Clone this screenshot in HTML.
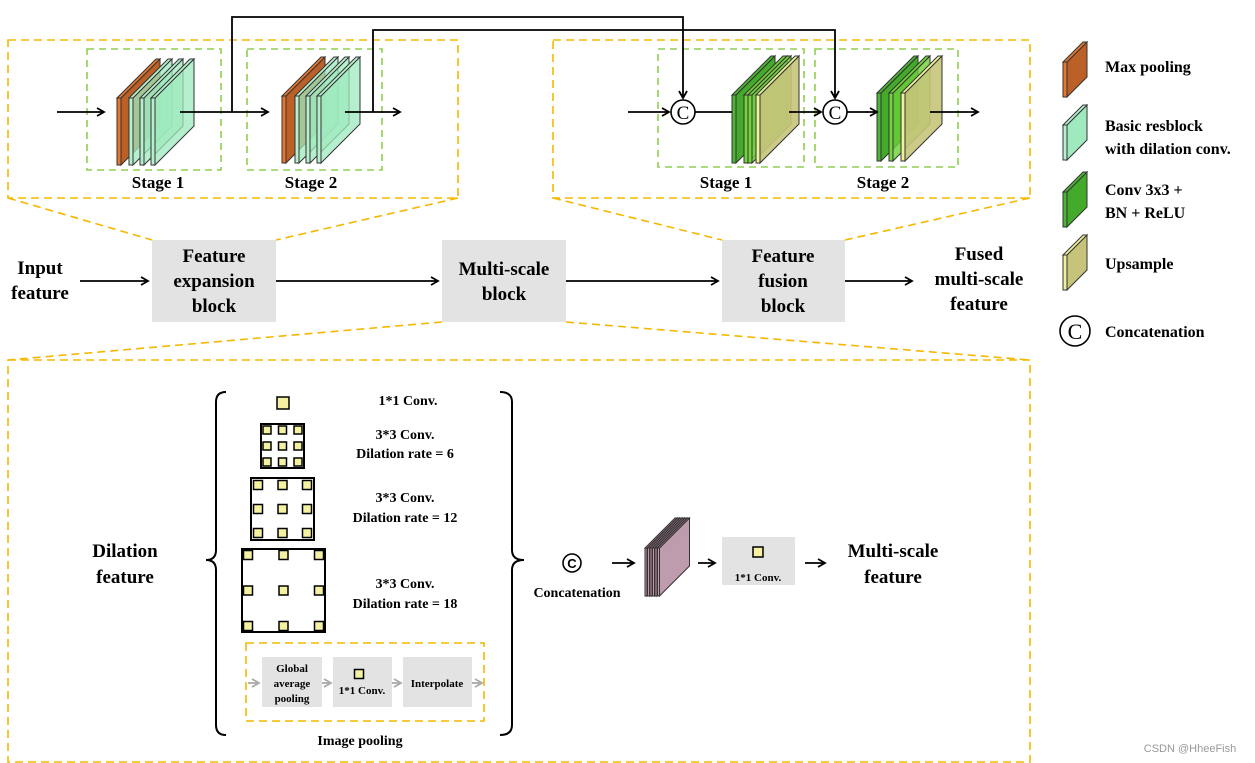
<!DOCTYPE html>
<html><head><meta charset="utf-8"><style>
html,body{margin:0;padding:0;background:#fff;}
svg{display:block;font-family:"Liberation Serif",serif;font-weight:bold;}
</style></head><body>
<svg id="s" width="1255" height="763" viewBox="0 0 1255 763" xmlns="http://www.w3.org/2000/svg">
<defs>
<marker id="a" markerWidth="10" markerHeight="10" refX="8" refY="5" orient="auto" markerUnits="userSpaceOnUse"><path d="M1,1 L8,5 L1,9" fill="none" stroke="#000" stroke-width="1.8"/></marker>
<marker id="g" markerWidth="10" markerHeight="10" refX="8" refY="5" orient="auto" markerUnits="userSpaceOnUse"><path d="M1,1 L8,5 L1,9" fill="none" stroke="#aaa" stroke-width="1.8"/></marker>
</defs>
<g fill="none" stroke="#f5b800" stroke-width="1.6" stroke-dasharray="8,5">
<rect x="8" y="40" width="450" height="158"/>
<rect x="553" y="40" width="477" height="158"/>
<rect x="8" y="360" width="1022" height="402"/>
<rect x="246" y="643" width="238" height="78"/>
<path d="M8,198 L152,240 M458,198 L276,240 M553,198 L722,240 M1030,198 L845,240 M442,322 L8,360 M566,322 L1030,360"/>
</g>
<g fill="none" stroke="#8fcf50" stroke-width="1.6" stroke-dasharray="7,5">
<rect x="87" y="49" width="134" height="121"/>
<rect x="247" y="49" width="135" height="121"/>
<rect x="658" y="49" width="146" height="118"/>
<rect x="815" y="49" width="143" height="118"/>
</g>
<g id="plates"></g>
<g fill="none" stroke="#000" stroke-width="1.8">
<path d="M57,112 L104,112" marker-end="url(#a)"/>
<path d="M180,112 L268,112" marker-end="url(#a)"/>
<path d="M345,112 L400,112" marker-end="url(#a)"/>
<path d="M232,112 V17 H683 V98" marker-end="url(#a)"/>
<path d="M373,112 V30 H835 V98" marker-end="url(#a)"/>
<path d="M628,112 L669,112" marker-end="url(#a)"/>
<path d="M695,112 L732,112"/>
<path d="M789,112 L821,112" marker-end="url(#a)"/>
<path d="M847,112 L877,112" marker-end="url(#a)"/>
<path d="M930,112 L978,112" marker-end="url(#a)"/>
<path d="M80,281 L148,281" marker-end="url(#a)"/>
<path d="M276,281 L438,281" marker-end="url(#a)"/>
<path d="M566,281 L718,281" marker-end="url(#a)"/>
<path d="M845,281 L912,281" marker-end="url(#a)"/>
<path d="M612,563 L634,563" marker-end="url(#a)"/>
<path d="M698,563 L715,563" marker-end="url(#a)"/>
<path d="M805,563 L825,563" marker-end="url(#a)"/>
</g>
<g fill="#fff" stroke="#000" stroke-width="1.6">
<circle cx="683" cy="112" r="12"/><circle cx="835" cy="112" r="12"/>
<circle cx="1075" cy="331" r="15"/><circle cx="572" cy="563" r="9"/>
</g>
<g font-weight="normal" font-size="19" text-anchor="middle">
<text x="683" y="119">C</text><text x="835" y="119">C</text><text x="1075" y="339" font-size="22">C</text>
</g>
<text x="572" y="568" font-size="13" text-anchor="middle" font-family="Liberation Sans,sans-serif">C</text>
<g font-size="17" text-anchor="middle">
<text x="158" y="188">Stage 1</text><text x="311" y="188">Stage 2</text>
<text x="726" y="188">Stage 1</text><text x="883" y="188">Stage 2</text>
</g>
<g fill="#e3e3e3">
<rect x="152" y="240" width="124" height="82"/><rect x="442" y="240" width="124" height="82"/><rect x="722" y="240" width="123" height="82"/>
<rect x="722" y="537" width="73" height="48"/>
<rect x="262" y="657" width="60" height="50"/><rect x="333" y="657" width="59" height="50"/><rect x="403" y="657" width="69" height="50"/>
</g>
<g font-size="19" text-anchor="middle">
<text x="40" y="274">Input</text><text x="40" y="299">feature</text>
<text x="214" y="262">Feature</text><text x="214" y="287">expansion</text><text x="214" y="312">block</text>
<text x="504" y="275">Multi-scale</text><text x="504" y="300">block</text>
<text x="783" y="262">Feature</text><text x="783" y="287">fusion</text><text x="783" y="312">block</text>
<text x="979" y="260">Fused</text><text x="979" y="285">multi-scale</text><text x="979" y="310">feature</text>
<text x="125" y="557">Dilation</text><text x="125" y="583">feature</text>
<text x="893" y="557">Multi-scale</text><text x="893" y="583">feature</text>
</g>
<g font-size="16">
<text x="1105" y="72">Max pooling</text>
<text x="1105" y="131">Basic resblock</text><text x="1105" y="154">with dilation conv.</text>
<text x="1105" y="195">Conv 3x3 +</text><text x="1105" y="218">BN + ReLU</text>
<text x="1105" y="269">Upsample</text>
<text x="1105" y="337">Concatenation</text>
</g>
<g font-size="14" text-anchor="middle">
<text x="408" y="405">1*1 Conv.</text>
<text x="405" y="439">3*3 Conv.</text><text x="405" y="458">Dilation rate = 6</text>
<text x="405" y="502">3*3 Conv.</text><text x="405" y="522">Dilation rate = 12</text>
<text x="405" y="588">3*3 Conv.</text><text x="405" y="608">Dilation rate = 18</text>
<text x="577" y="597">Concatenation</text>
<text x="360" y="745">Image pooling</text>
</g>
<g font-size="11" text-anchor="middle">
<text x="292" y="672">Global</text><text x="292" y="687">average</text><text x="292" y="702">pooling</text>
<text x="362" y="694">1*1 Conv.</text><text x="437" y="687">Interpolate</text>
<text x="758" y="581">1*1 Conv.</text>
</g>
<g fill="none" stroke="#000" stroke-width="2">
<rect x="261" y="424" width="43" height="44"/><rect x="251" y="478" width="63" height="62"/><rect x="242" y="549" width="83" height="83"/>
<path d="M226,392 Q216,392 216,402 V550 Q216,560 206,560 Q216,560 216,570 V725 Q216,735 226,735"/>
<path d="M500,392 Q512,392 512,402 V550 Q512,560 524,560 Q512,560 512,570 V725 Q512,735 500,735"/>
</g>
<g fill="none" stroke="#aaa" stroke-width="1.8">
<path d="M248,683 L259,683" marker-end="url(#g)"/><path d="M322,683 L331,683" marker-end="url(#g)"/>
<path d="M392,683 L401,683" marker-end="url(#g)"/><path d="M472,683 L482,683" marker-end="url(#g)"/>
</g>
<g id="sq" fill="#f4f1a0" stroke="#000" stroke-width="1.5"></g>
<text x="1190" y="752" font-size="11" fill="#999" font-weight="normal" text-anchor="middle" font-family="Liberation Sans,sans-serif">CSDN @HheeFish</text>
<script>
var NS="http://www.w3.org/2000/svg";
function el(p,t,a){var e=document.createElementNS(NS,t);for(var k in a)e.setAttribute(k,a[k]);p.appendChild(e);return e;}
var P=document.getElementById("plates");
function plate(x,y,h,d,fc,face,op,w){w=w||4;
el(P,"polygon",{points:(x+w)+","+y+" "+(x+w+d)+","+(y-d)+" "+(x+w+d)+","+(y+h-d)+" "+(x+w)+","+(y+h),fill:face,"fill-opacity":op,stroke:"#333","stroke-width":1});
el(P,"polygon",{points:x+","+y+" "+(x+d)+","+(y-d)+" "+(x+w+d)+","+(y-d)+" "+(x+w)+","+y,fill:fc,stroke:"#333","stroke-width":1});
el(P,"rect",{x:x,y:y,width:w,height:h,fill:fc,stroke:"#333","stroke-width":1});}
var O1="#e8772e",O2="#bb6128",G="#b7f0cf",GF="#9ee9bd",D="#4db535",DF="#44aa2c",L="#74d43c",Y="#eef29a",YF="#c6c47a";
plate(117,98,67,39,O1,O2,1);plate(129,98,67,39,G,GF,0.75);plate(140,98,67,39,G,GF,0.75);plate(151,98,67,39,G,GF,0.75);
plate(282,96,67,39,O1,O2,1);plate(295,96,67,39,G,GF,0.75);plate(306,96,67,39,G,GF,0.75);plate(317,96,67,39,G,GF,0.75);
plate(732,95,68,39,D,DF,1);plate(744,95,68,39,L,"#8ad85c",0.8);plate(748,95,68,39,L,"#6ccf3a",0.8);plate(756,95,68,39,Y,YF,0.9);
plate(877,93,68,37,D,DF,1);plate(889,93,68,37,L,"#6ccf3a",0.8);plate(901,93,68,37,Y,YF,0.9);
plate(1063,62,35,20,O1,O2,1);plate(1063,125,35,20,G,GF,1);plate(1063,192,35,20,D,DF,1);plate(1063,255,35,20,Y,YF,1);
for(var i=0;i<6;i++)plate(645+i*2.5,548,48,30,"#c797ad","#be9bad",1,2);
var S=document.getElementById("sq");
function sq(cx,cy,s){el(S,"rect",{x:cx-s/2,y:cy-s/2,width:s,height:s});}
sq(283,403,12);sq(758,552,10);sq(359,674,9);
function grid(x0,y0,x1,y1,s){var xs=[x0,(x0+x1)/2,x1],ys=[y0,(y0+y1)/2,y1];for(var a=0;a<3;a++)for(var b=0;b<3;b++)sq(xs[a],ys[b],s);}
grid(267,430,298,462,8);grid(258,485,307,533,9);grid(248,555,319,626,9);
</script>
</svg>
</body></html>
